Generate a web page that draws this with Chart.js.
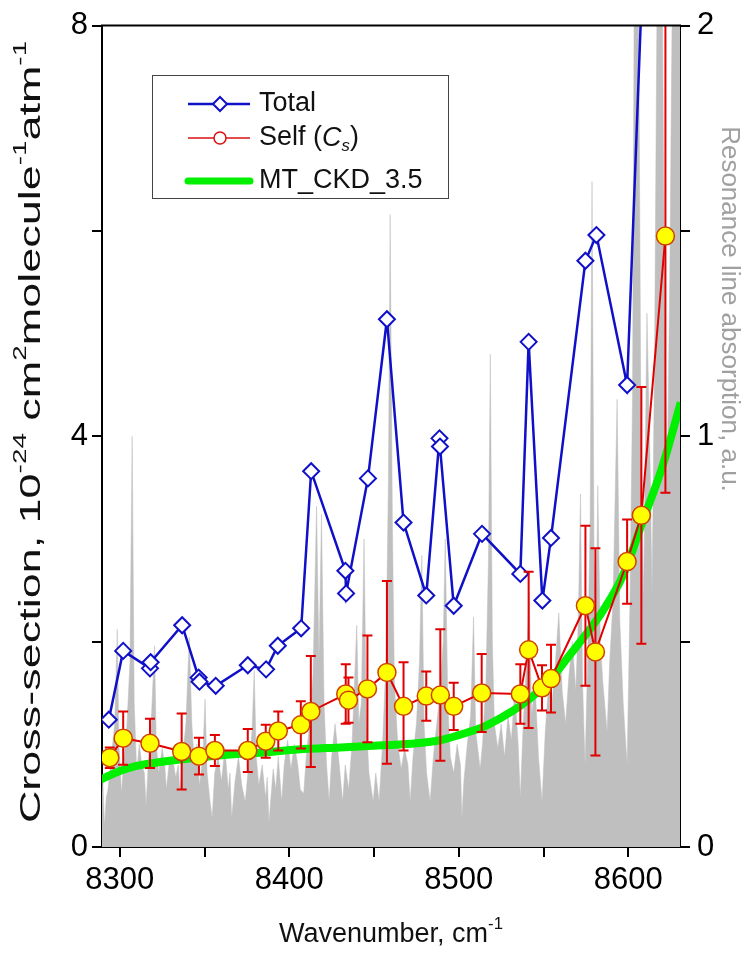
<!DOCTYPE html>
<html>
<head>
<meta charset="utf-8">
<script src="https://cdn.jsdelivr.net/npm/chart.js@4.4.0/dist/chart.umd.min.js"></script>
<style>
  html, body { margin: 0; padding: 0; background: #fff; }
  #wrap { width: 748px; height: 953px; }
</style>
</head>
<body>
<div id="wrap"><canvas id="chart" width="748" height="953"></canvas></div>
<script>
// Total cross-section (blue diamonds)
const totalX = [8293.5, 8302, 8317.8, 8318.2, 8336.8, 8346.5, 8347, 8356.6, 8375.5, 8386.3, 8393.2, 8407,
    8412.9, 8433.1, 8433.5, 8446.4, 8457.6, 8467.4, 8480.8, 8488.6, 8488.9, 8497, 8513.7, 8536.3,
    8541.2, 8549.3, 8554.4, 8574.7, 8581.2, 8599.3, 8620];
const totalY = [1.24, 1.91, 1.74, 1.80, 2.16, 1.65, 1.61, 1.57, 1.77, 1.73, 1.96, 2.13,
    3.66, 2.69, 2.47, 3.59, 5.14, 3.16, 2.45, 3.98, 3.90, 2.35, 3.05, 2.66,
    4.92, 2.40, 3.01, 5.71, 5.96, 4.50, 13.6];

// Self continuum Cs (yellow circles) with error bars
const selfX = [8294.1, 8302, 8317.8, 8336.5, 8346.7, 8356.1, 8375.5, 8386.1, 8393.5, 8406.8, 8412.7,
    8433.3, 8434.9, 8446.1, 8457.6, 8467.4, 8480.8, 8489.1, 8497, 8513.5, 8536.3, 8541.2,
    8549.1, 8554.4, 8574.7, 8580.6, 8599.3, 8607.7, 8621.9];
const selfY = [0.87, 1.06, 1.01, 0.93, 0.885, 0.94, 0.94, 1.03, 1.13, 1.19, 1.32,
    1.49, 1.43, 1.54, 1.70, 1.37, 1.47, 1.48, 1.37, 1.50, 1.49, 1.92,
    1.55, 1.64, 2.35, 1.90, 2.78, 3.23, 5.95];
const selfErr = [0.10, 0.26, 0.24, 0.37, 0.18, 0.15, 0.21, 0.16, 0.19, 0.23, 0.54,
    0.29, 0.22, 0.52, 0.89, 0.43, 0.24, 0.64, 0.23, 0.38, 0.29, 0.76,
    0.22, 0.33, 0.78, 1.01, 0.41, 1.25, 2.5];

// MT_CKD_3.5 (green)
const ckdX = [8289, 8300, 8310, 8325, 8345, 8365, 8385, 8405, 8430, 8455, 8475, 8489, 8500, 8513,
    8525, 8536, 8548, 8556, 8565, 8575, 8585, 8597, 8608, 8620, 8631];
const ckdY = [0.66, 0.74, 0.79, 0.83, 0.87, 0.90, 0.92, 0.95, 0.97, 0.99, 1.01, 1.04, 1.09, 1.16,
    1.26, 1.37, 1.53, 1.67, 1.86, 2.07, 2.30, 2.65, 3.15, 3.70, 4.33];

// Resonance line absorption (gray, right axis)
const resX = [8289, 8290, 8291, 8292, 8293, 8295, 8297, 8298.5, 8299.5, 8301, 8302.5, 8304, 8306, 8307.3, 8308.5,
    8310, 8311.5, 8313, 8314.5, 8315.5, 8317, 8318.5, 8320.5, 8321.5, 8323, 8325, 8326.5, 8327.5, 8329, 8331, 8333,
    8334.5, 8335.5, 8337, 8339, 8341, 8342.5, 8344, 8345.5, 8347, 8349, 8350.3, 8351.5, 8353, 8354.5, 8356,
    8358, 8360, 8362, 8364, 8365, 8366, 8368, 8370, 8372, 8374, 8376, 8378, 8379.3, 8380.5, 8382, 8384,
    8386, 8387, 8388, 8390.5, 8392, 8393.5, 8395.5, 8397, 8399, 8401, 8403, 8405, 8406.5, 8408.5, 8410,
    8412, 8414, 8416.1, 8417.5, 8419, 8420.5, 8422, 8423.5, 8425, 8427, 8429, 8431.5, 8433, 8435,
    8437, 8439.8, 8441, 8442.5, 8444.1, 8445.5, 8447, 8449.5, 8451, 8453, 8455, 8457, 8458.5, 8459.5,
    8460.8, 8462, 8464, 8466, 8468, 8470, 8471.3, 8473, 8475, 8476.8, 8478.2, 8479.5, 8481, 8483.1, 8485,
    8487, 8489, 8490.8, 8492, 8493.5, 8495, 8497, 8499, 8501, 8501.8, 8503, 8505, 8507, 8508.7, 8510,
    8512.6, 8514, 8516, 8517.5, 8518.6, 8519.8, 8521, 8523, 8525, 8527, 8529, 8531, 8533, 8535, 8536.3,
    8538, 8540, 8541.5, 8543, 8545, 8547, 8549.1, 8551, 8553, 8555, 8557, 8559, 8561, 8563, 8565,
    8567, 8569, 8570.5, 8571.8, 8573, 8574.5, 8576, 8577.5, 8578.6, 8579.8, 8581, 8582, 8583.5,
    8585, 8587.5, 8589, 8591, 8593.4, 8595, 8597, 8599.3, 8601, 8602.5, 8603.5, 8606, 8607.5, 8609,
    8611, 8613, 8614, 8615.5, 8617, 8620, 8621.5, 8623, 8624.5, 8626, 8631];
const resY = [0.10, 0.16, 0.05, 0.12, 0.14, 0.22, 0.30, 0.53, 0.25, 0.13, 0.22, 0.28, 0.45, 1.00, 0.35,
    0.18, 0.25, 0.20, 0.18, 0.10, 0.22, 0.30, 0.49, 0.25, 0.18, 0.24, 0.20, 0.14, 0.20, 0.22, 0.17,
    0.20, 0.13, 0.22, 0.30, 0.51, 0.30, 0.20, 0.25, 0.15, 0.22, 0.36, 0.18, 0.12, 0.07, 0.18,
    0.22, 0.16, 0.24, 0.14, 0.18, 0.07, 0.16, 0.22, 0.15, 0.11, 0.20, 0.28, 0.43, 0.22, 0.15, 0.20,
    0.12, 0.17, 0.06, 0.19, 0.14, 0.22, 0.11, 0.20, 0.26, 0.19, 0.25, 0.20, 0.14, 0.13, 0.22,
    0.30, 0.42, 0.83, 0.45, 0.81, 0.35, 0.20, 0.11, 0.22, 0.30, 0.22, 0.11, 0.20, 0.14,
    0.25, 0.54, 0.30, 0.35, 0.75, 0.30, 0.18, 0.11, 0.18, 0.11, 0.25, 0.45, 0.90, 1.54,
    0.80, 0.40, 0.25, 0.19, 0.24, 0.20, 0.11, 0.22, 0.30, 0.45, 0.71, 0.30, 0.18, 0.11, 0.22,
    0.30, 0.38, 0.50, 0.75, 0.35, 0.22, 0.18, 0.25, 0.20, 0.07, 0.16, 0.25, 0.32, 0.56, 0.28,
    0.19, 0.25, 0.40, 0.70, 1.20, 0.50, 0.30, 0.24, 0.30, 0.22, 0.32, 0.26, 0.38, 0.25, 0.12,
    0.30, 0.45, 0.62, 0.32, 0.40, 0.22, 0.11, 0.28, 0.40, 0.35, 0.45, 0.57, 0.38, 0.30, 0.42,
    0.50, 0.38, 0.55, 0.86, 0.40, 0.20, 0.45, 0.80, 1.62, 0.70, 0.55, 0.88, 0.50,
    0.40, 0.28, 0.45, 0.60, 1.09, 0.55, 0.35, 0.20, 0.60, 1.10, 2.10, 2.10, 1.00, 0.60,
    1.30, 0.90, 0.61, 1.20, 2.10, 2.10, 1.30, 0.90, 1.40, 2.10, 2.10];

const xTickLabels = [8300, 8400, 8500, 8600];
const leftTickLabels = [0, 4, 8];
const rightTickLabels = [0, 1, 2];

const FONT = "'Liberation Sans', Arial, sans-serif";
Chart.defaults.font.family = FONT;

function pts(xs, ys) {
    return xs.map((x, i) => ({ x: x, y: ys[i] }));
}

// draw a run of text pieces, some raised as superscripts or lowered as subscripts
function drawRich(ctx, parts, size, x, y, align) {
    const widths = parts.map(p => {
        ctx.font = (p.italic ? 'italic ' : '') + (p.sup || p.sub ? size * 0.62 : size) + 'px ' + FONT;
        return ctx.measureText(p.t).width;
    });
    const total = widths.reduce((a, b) => a + b, 0);
    let cx = align === 'center' ? x - total / 2 : x;
    ctx.textBaseline = 'middle';
    ctx.textAlign = 'left';
    parts.forEach((p, i) => {
        ctx.font = (p.italic ? 'italic ' : '') + (p.sup || p.sub ? size * 0.62 : size) + 'px ' + FONT;
        let dy = 0;
        if (p.sup) dy = -size * 0.38;
        if (p.sub) dy = size * 0.3;
        ctx.fillText(p.t, cx, y + dy);
        cx += widths[i];
    });
    return total;
}

const errorBars = {
    id: 'errorBars',
    beforeDatasetDraw(chart, args) {
        if (args.index !== 3) return;
        const ctx = chart.ctx;
        const xs = chart.scales.x, ys = chart.scales.y;
        const a = chart.chartArea;
        ctx.save();
        ctx.beginPath();
        ctx.rect(a.left, a.top, a.right - a.left, a.bottom - a.top);
        ctx.clip();
        ctx.strokeStyle = '#e00000';
        ctx.lineWidth = 2;
        selfX.forEach((x, i) => {
            const px = xs.getPixelForValue(x);
            const top = ys.getPixelForValue(selfY[i] + selfErr[i]);
            const bot = ys.getPixelForValue(selfY[i] - selfErr[i]);
            ctx.beginPath();
            ctx.moveTo(px, top); ctx.lineTo(px, bot);
            ctx.moveTo(px - 5, top); ctx.lineTo(px + 5, top);
            ctx.moveTo(px - 5, bot); ctx.lineTo(px + 5, bot);
            ctx.stroke();
        });
        ctx.restore();
    }
};

const decorations = {
    id: 'decorations',
    afterDraw(chart) {
        const ctx = chart.ctx;
        const a = chart.chartArea;
        ctx.save();
        // top frame line
        ctx.strokeStyle = '#000';
        ctx.lineWidth = 2;
        ctx.beginPath();
        ctx.moveTo(a.left - 1, a.top);
        ctx.lineTo(a.right + 1, a.top);
        ctx.stroke();

        // legend
        const lx = 152, ly = 75, lw = 296, lh = 123;
        ctx.fillStyle = '#fff';
        ctx.fillRect(lx, ly, lw, lh);
        ctx.strokeStyle = '#444';
        ctx.lineWidth = 1;
        ctx.strokeRect(lx + 0.5, ly + 0.5, lw, lh);

        // Total
        ctx.strokeStyle = '#1010c8';
        ctx.lineWidth = 2.5;
        ctx.beginPath(); ctx.moveTo(188, 104); ctx.lineTo(250, 104); ctx.stroke();
        ctx.fillStyle = '#fff';
        ctx.lineWidth = 2;
        ctx.beginPath();
        ctx.moveTo(220, 97); ctx.lineTo(227, 104); ctx.lineTo(220, 111); ctx.lineTo(213, 104); ctx.closePath();
        ctx.fill(); ctx.stroke();
        // Self
        ctx.strokeStyle = '#d81010';
        ctx.lineWidth = 1.5;
        ctx.beginPath(); ctx.moveTo(188, 138); ctx.lineTo(250, 138); ctx.stroke();
        ctx.beginPath(); ctx.arc(220, 138, 6, 0, Math.PI * 2);
        ctx.fill(); ctx.stroke();
        // MT_CKD
        ctx.strokeStyle = '#00f000';
        ctx.lineWidth = 7;
        ctx.lineCap = 'round';
        ctx.beginPath(); ctx.moveTo(188, 181); ctx.lineTo(250, 181); ctx.stroke();
        ctx.lineCap = 'butt';

        ctx.fillStyle = '#111';
        drawRich(ctx, [{ t: 'Total' }], 27, 259, 104, 'left');
        drawRich(ctx, [{ t: 'Self (' }, { t: 'C', italic: true }, { t: 's', sub: true, italic: true }, { t: ')' }], 27, 259, 138, 'left');
        drawRich(ctx, [{ t: 'MT_CKD_3.5' }], 27, 259, 181, 'left');

        // x axis title
        drawRich(ctx, [{ t: 'Wavenumber, cm' }, { t: '-1', sup: true }], 27, (a.left + a.right) / 2, 935, 'center');

        // left axis title, spread along the full height of the axis
        ctx.save();
        ctx.translate(32, 432);
        ctx.rotate(-Math.PI / 2);
        ctx.scale(1.55, 1);
        drawRich(ctx, [{ t: 'Cross-section, 10' }, { t: '-24', sup: true }, { t: ' cm' }, { t: '2', sup: true },
            { t: 'molecule' }, { t: '-1', sup: true }, { t: 'atm' }, { t: '-1', sup: true }], 29, 0, 0, 'center');
        ctx.restore();

        // right axis title
        ctx.save();
        ctx.translate(729, 309);
        ctx.rotate(Math.PI / 2);
        ctx.fillStyle = '#a0a0a0';
        drawRich(ctx, [{ t: 'Resonance line absorption, a.u.' }], 26, 0, 0, 'center');
        ctx.restore();
        ctx.restore();
    }
};

const tickGrid = {
    display: true,
    drawOnChartArea: false,
    drawTicks: true,
    tickLength: 10,
    tickWidth: 2,
    tickColor: '#000',
    color: '#000',
    lineWidth: 2
};

const chart = new Chart(document.getElementById('chart').getContext('2d'), {
    type: 'scatter',
    data: {
        datasets: [{
            label: 'Resonance',
            data: pts(resX, resY),
            yAxisID: 'y2',
            showLine: true,
            fill: 'origin',
            backgroundColor: '#bfbfbf',
            borderColor: '#bfbfbf',
            borderWidth: 0.5,
            pointRadius: 0,
            clip: 0,
            order: 4
        }, {
            label: 'MT_CKD_3.5',
            data: pts(ckdX, ckdY),
            yAxisID: 'y',
            showLine: true,
            borderColor: '#00f000',
            borderWidth: 8,
            pointRadius: 0,
            cubicInterpolationMode: 'monotone',
            clip: 0,
            order: 3
        }, {
            label: 'Total',
            data: pts(totalX, totalY),
            yAxisID: 'y',
            showLine: true,
            borderColor: '#1010c8',
            borderWidth: 2.5,
            pointStyle: 'rectRot',
            pointRadius: 8,
            pointBorderWidth: 2,
            pointBackgroundColor: '#fff',
            pointBorderColor: '#1010c8',
            clip: 0,
            order: 2
        }, {
            label: 'Self',
            data: pts(selfX, selfY),
            yAxisID: 'y',
            showLine: true,
            borderColor: '#e00000',
            borderWidth: 2,
            pointStyle: 'circle',
            pointRadius: 9,
            pointBorderWidth: 1.5,
            pointBackgroundColor: '#ffff00',
            pointBorderColor: '#d04000',
            clip: 0,
            order: 1
        }]
    },
    options: {
        responsive: false,
        animation: false,
        events: [],
        layout: { padding: { top: 24, left: 0, right: 0, bottom: 0 } },
        plugins: {
            legend: { display: false },
            tooltip: { enabled: false }
        },
        scales: {
            x: {
                type: 'linear',
                min: 8289.5,
                max: 8630.5,
                grid: tickGrid,
                border: { display: true, color: '#000', width: 2 },
                ticks: {
                    stepSize: 50,
                    includeBounds: false,
                    autoSkip: false,
                    maxRotation: 0,
                    padding: 5,
                    color: '#000',
                    font: { size: 31 },
                    callback: v => xTickLabels.includes(v) ? String(v) : ''
                },
                afterFit(scale) { scale.height = 106; }
            },
            y: {
                position: 'left',
                min: 0,
                max: 8,
                grid: tickGrid,
                border: { display: true, color: '#000', width: 2 },
                ticks: {
                    stepSize: 2,
                    includeBounds: false,
                    autoSkip: false,
                    padding: 4,
                    color: '#000',
                    font: { size: 31 },
                    callback: v => leftTickLabels.includes(v) ? String(v) : ''
                },
                afterFit(scale) { scale.width = 102; }
            },
            y2: {
                position: 'right',
                min: 0,
                max: 2,
                grid: tickGrid,
                border: { display: true, color: '#000', width: 2 },
                ticks: {
                    stepSize: 0.5,
                    includeBounds: false,
                    autoSkip: false,
                    padding: 7,
                    color: '#000',
                    font: { size: 31 },
                    callback: v => rightTickLabels.includes(v) ? String(v) : ''
                },
                afterFit(scale) { scale.width = 68; }
            }
        }
    },
    plugins: [errorBars, decorations]
});
</script>
</body>
</html>
